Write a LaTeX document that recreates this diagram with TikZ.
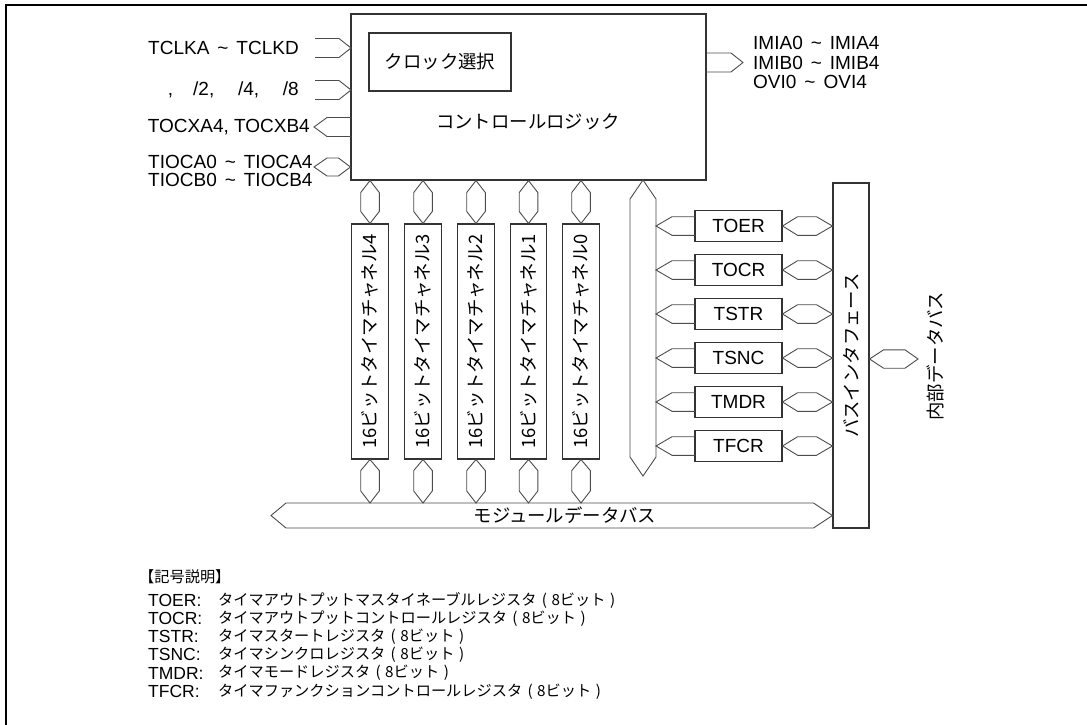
\documentclass[tikz,border=0pt]{standalone}
\usepackage{fontspec}
\setmainfont{Liberation Sans}
\newfontfamily\jp{Noto Sans CJK JP}
\usetikzlibrary{calc}
\tikzset{
 box/.style={draw=black!80, line width=1.1pt, inner sep=0pt, fill=white},
 bus/.style={draw=black!70, line width=0.9pt},
 lbl/.style={inner sep=0pt, font=\fontsize{19}{19}\selectfont},
 jlbl/.style={inner sep=0pt, font=\jp\fontsize{18.4}{18.4}\selectfont},
 leg/.style={inner sep=0pt, anchor=west, font=\fontsize{17.5}{17.5}\selectfont},
 jleg/.style={inner sep=0pt, anchor=west, font=\jp\fontsize{15.2}{15.2}\selectfont},
}
\newcommand\tl{\hspace{0.42em}\textasciitilde\hspace{0.42em}}
% open arrow pointing +x: tip, total length, head length, half height
\newcommand\arrR[4]{\draw[bus] ($#1+(-#2,-#4)$) -- ($#1+(-#3,-#4)$) -- #1 -- ($#1+(-#3,#4)$) -- ($#1+(-#2,#4)$);}
% open arrow pointing -x
\newcommand\arrL[4]{\draw[bus] ($#1+(#2,-#4)$) -- ($#1+(#3,-#4)$) -- #1 -- ($#1+(#3,#4)$) -- ($#1+(#2,#4)$);}
% horizontal hexagon: left tip, right tip, left shoulder, right shoulder, half height
\newcommand\hhex[5]{\draw[bus,fill=white] #1 -- ($#1+(#3,-#5)$) -- ($#2+(-#4,-#5)$) -- #2 -- ($#2+(-#4,#5)$) -- ($#1+(#3,#5)$) -- cycle;}
% vertical hexagon: top tip, bottom tip, top shoulder, bottom shoulder, half width
\newcommand\vhex[5]{\draw[bus,fill=white] #1 -- ($#1+(#5,#3)$) -- ($#2+(#5,-#4)$) -- #2 -- ($#2+(-#5,-#4)$) -- ($#1+(-#5,#3)$) -- cycle;}
\begin{document}
\begin{tikzpicture}[x=1pt,y=-1pt]
\useasboundingbox (0,0) rectangle (1087,725);
\draw[line width=2.2pt, black] (6,727) -- (6,5) -- (1089,5);

% control logic
\node[box, minimum width=355pt, minimum height=166pt] (ctrl) at (528.5,97) {};
\node[box, jlbl, minimum width=142pt, minimum height=58pt] (clk) at (440,62) {クロック選択};
\node[jlbl] (ctrltxt) at (528,122) {コントロールロジック};

% inputs / outputs of control logic
\coordinate (in1) at (351,48);
\coordinate (in2) at (351,90);
\coordinate (out1) at (314,127);
\coordinate (io1) at (314,167);
\coordinate (irq) at (743,62.5);
\arrR{(in1)}{36}{12}{9.5}
\arrR{(in2)}{36}{12}{9.5}
\arrL{(out1)}{37}{13}{9.5}
\hhex{(io1)}{(ctrl.west |- io1)}{13}{12}{9}
\arrR{(irq)}{37}{12}{9.5}

\node[lbl, anchor=east] (tclk) at (299,48) {TCLKA\tl TCLKD};
\node[lbl, anchor=east] (phi) at (299,90) {,\hspace{1.05em}/2,\hspace{1.25em}/4,\hspace{1.25em}/8};
\node[lbl, anchor=east] (tocx) at (310,127) {TOCXA4, TOCXB4};
\node[inner sep=0pt, anchor=west, align=left, font=\fontsize{19}{18.5}\selectfont] (tioc) at (148,171) {TIOCA0\tl TIOCA4\\TIOCB0\tl TIOCB4};
\node[inner sep=0pt, anchor=west, align=left, font=\fontsize{19}{19.5}\selectfont] (imi) at (753,62.5) {IMIA0\tl IMIA4\\IMIB0\tl IMIB4\\OVI0\tl OVI4};

% bus interface
\node[box, minimum width=36pt, minimum height=345pt] (bif) at (851,355.5) {};
\node[jlbl, rotate=90] (biftxt) at (bif) {バスインタフェース};

% module data bus
\coordinate (mbL) at (271,515.5);
\coordinate (mbT) at (271,503);
\hhex{(mbL)}{(bif.west |- mbL)}{15}{19}{12.5}
\node[jlbl] (mbtxt) at (565,515.5) {モジュールデータバス};

% timer channels
\foreach \i/\x in {4/370,3/423,2/476,1/528.5,0/581} {
  \node[box, minimum width=36.5pt, minimum height=235pt] (ch\i) at (\x,341.5) {};
  \node[jlbl, rotate=90] at (ch\i) {16ビットタイマチャネル\i};
  \vhex{(ch\i.north |- ctrl.south)}{(ch\i.north)}{12}{12}{9.3}
  \vhex{(ch\i.south)}{(ch\i.south |- mbT)}{11}{12}{9.3}
}

% vertical internal bus
\coordinate (vbT) at (643,180);
\coordinate (vbB) at (643,476);
\coordinate (vbR) at (656,300);
\vhex{(vbT)}{(vbB)}{19}{19}{13}

% registers
\foreach \n/\y in {TOER/226,TOCR/270,TSTR/314,TSNC/358,TMDR/402,TFCR/446} {
  \node[box, lbl, minimum width=87pt, minimum height=31pt] (\n) at (738.5,\y) {\n};
  \arrL{(vbR |- \n.west)}{39}{16}{9.3}
  \hhex{(\n.east)}{(bif.west |- \n.east)}{15}{16}{9.3}
}

% internal data bus
\coordinate (ib) at (918,359);
\hhex{(bif.east |- ib)}{(ib)}{14}{13}{9.2}
\node[jlbl, rotate=90] (ibtxt) at (935,356) {内部データバス};

% legend
\node[jleg] (legh) at (139,577) {【記号説明】};
\foreach \n/\d/\y in {TOER/タイマアウトプットマスタイネーブルレジスタ/600,
                      TOCR/タイマアウトプットコントロールレジスタ/618.3,
                      TSTR/タイマスタートレジスタ/636.6,
                      TSNC/タイマシンクロレジスタ/654.9,
                      TMDR/タイマモードレジスタ/673.2,
                      TFCR/タイマファンクションコントロールレジスタ/691.5} {
  \node[leg] (l\n) at (148,\y) {\n:};
  \node[jleg] (d\n) at (218,\y) {\d\hspace{0.35em}(\hspace{0.3em}8ビット\hspace{0.3em})};
}
\end{tikzpicture}
\end{document}
